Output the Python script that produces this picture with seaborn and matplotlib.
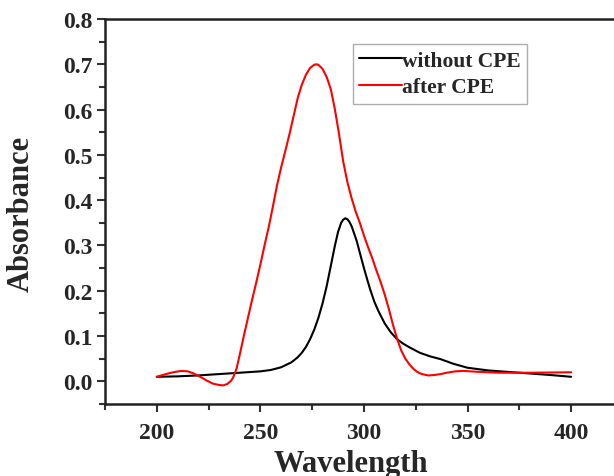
import pandas as pd
import numpy as np
import matplotlib
matplotlib.use("Agg")
import matplotlib.pyplot as plt
import seaborn as sns
from matplotlib.ticker import MultipleLocator

# ---------------- data ----------------
wl_without = [200, 210, 220, 230, 240, 250, 255, 260, 265, 268, 270, 272, 274,
              276, 278, 280, 282, 284, 286, 287.5, 289, 290, 291, 292, 293,
              294, 295, 296.5, 298, 300, 301.5, 303, 305, 307, 310, 313, 316,
              319, 322, 327, 332, 337, 343, 350, 360, 375, 390, 400]
abs_without = [0.010, 0.011, 0.013, 0.016, 0.019, 0.022, 0.025, 0.031, 0.042,
               0.053, 0.063, 0.076, 0.093, 0.114, 0.140, 0.172, 0.210, 0.255,
               0.300, 0.330, 0.350, 0.357, 0.360, 0.358, 0.352, 0.343, 0.330,
               0.310, 0.284, 0.250, 0.226, 0.203, 0.176, 0.155, 0.128, 0.108,
               0.093, 0.083, 0.075, 0.063, 0.055, 0.049, 0.039, 0.030, 0.024,
               0.019, 0.014, 0.010]

wl_after = [200, 203, 206, 209, 212, 215, 218, 221, 224, 227, 230, 232, 234,
            236, 237, 238.5, 240, 242, 244, 246, 248, 250, 252, 254, 256, 258,
            260, 262, 264, 266, 268, 270, 272, 274, 276, 277, 278, 280, 282,
            284, 286, 288, 290, 292, 294, 296, 298, 300, 302, 304, 306, 308,
            310, 312, 314, 316, 318, 320, 322, 324, 326, 328, 331, 334, 337,
            340, 344, 348, 355, 365, 380, 400]
abs_after = [0.010, 0.014, 0.018, 0.021, 0.023, 0.022, 0.017, 0.010, 0.002,
             -0.005, -0.008, -0.009, -0.006, 0.002, 0.010, 0.028, 0.058, 0.100,
             0.140, 0.180, 0.218, 0.258, 0.300, 0.340, 0.385, 0.432, 0.472,
             0.508, 0.545, 0.585, 0.625, 0.655, 0.677, 0.692, 0.699, 0.700,
             0.699, 0.690, 0.672, 0.645, 0.600, 0.545, 0.485, 0.440, 0.405,
             0.375, 0.350, 0.322, 0.296, 0.272, 0.245, 0.220, 0.192, 0.160,
             0.125, 0.094, 0.068, 0.050, 0.037, 0.027, 0.020, 0.016, 0.013,
             0.014, 0.016, 0.019, 0.022, 0.023, 0.021, 0.019, 0.019, 0.020]

series_names = ["without CPE", "after CPE"]
series_colors = ["black", "red"]

df = pd.concat([
    pd.DataFrame({"Wavelength": wl_without, "Absorbance": abs_without, "Sample": series_names[0]}),
    pd.DataFrame({"Wavelength": wl_after, "Absorbance": abs_after, "Sample": series_names[1]}),
], ignore_index=True)

# ---------------- style ----------------
sns.set_style("ticks")
plt.rcParams["font.family"] = ["Liberation Serif", "DejaVu Serif"]
plt.rcParams["font.weight"] = "bold"
plt.rcParams["axes.labelweight"] = "bold"

fig = plt.figure(figsize=(6.14, 4.77), dpi=100)
ax = fig.add_axes([0.171, 0.151, 0.829, 0.807])

sns.lineplot(
    data=df, x="Wavelength", y="Absorbance", hue="Sample",
    palette=dict(zip(series_names, series_colors)),
    estimator=None, sort=True, linewidth=1.5, ax=ax
)

ax.set_xlim(175, 420.7)
ax.set_ylim(-0.05, 0.8)
ax.xaxis.set_minor_locator(MultipleLocator(25))
ax.yaxis.set_minor_locator(MultipleLocator(0.05))
ax.set_yticks(np.arange(0, 0.81, 0.1))
ax.set_yticklabels([f"{v:.1f}" for v in np.arange(0, 0.81, 0.1)])
ax.set_xticks([200, 250, 300, 350, 400])

ax.tick_params(axis="both", which="major", direction="out", length=6, width=1.5, color="#333333")
ax.tick_params(axis="both", which="minor", direction="out", length=4, width=1.5, color="#333333")
ax.tick_params(axis="x", labelsize=17, pad=7)
ax.tick_params(axis="y", labelsize=17, pad=3)

ax.spines["right"].set_visible(False)
for s in ["left", "top", "bottom"]:
    ax.spines[s].set_linewidth(1.8)
    ax.spines[s].set_color("#222222")

ax.set_xlabel("Wavelength", fontsize=22, fontweight="bold")
ax.set_ylabel("Absorbance", fontsize=22, fontweight="bold")
ax.xaxis.set_label_coords(0.484, -0.118)
ax.yaxis.set_label_coords(-0.1356, 0.496)

leg = ax.legend(
    loc="upper left", bbox_to_anchor=(0.487, 0.935),
    fontsize=15.5, frameon=True, fancybox=False,
    handlelength=2.0, handletextpad=0.0, borderpad=0.3,
    labelspacing=0.3, borderaxespad=0
)
leg.get_frame().set_edgecolor("#999999")
leg.get_frame().set_linewidth(1.0)
for line in leg.get_lines():
    line.set_linewidth(1.5)

fig.savefig("out.png", dpi=100)
